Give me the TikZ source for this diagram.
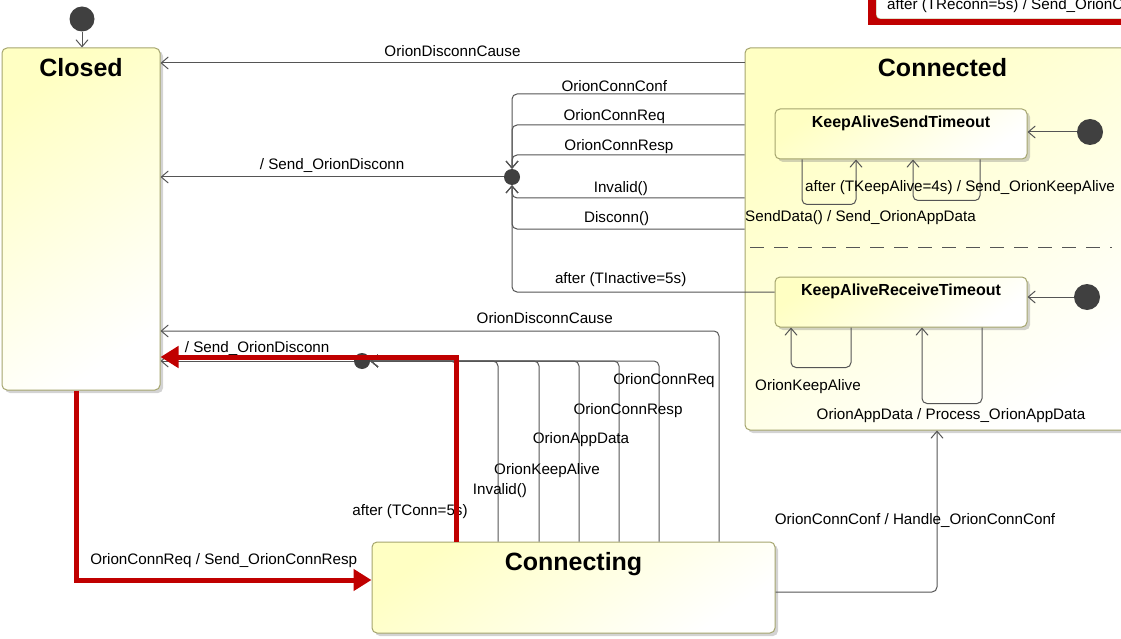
\documentclass[tikz,border=0pt]{standalone}
\usepackage{fontspec}
\setmainfont{Liberation Sans}
\usetikzlibrary{arrows.meta,shadows}
\definecolor{stateyellow}{RGB}{255,255,195}
\definecolor{stateedge}{RGB}{165,165,110}
\definecolor{wire}{RGB}{85,85,85}
\definecolor{dotgray}{RGB}{64,64,64}
\definecolor{hired}{RGB}{192,0,0}
\newcommand{\lblfont}{\fontsize{15.2}{17}\selectfont}
\newcommand{\bigstatefont}{\fontsize{25}{30}\selectfont\bfseries}
\newcommand{\smallstatefont}{\fontsize{16}{19}\selectfont\bfseries}

\begin{document}
\begin{tikzpicture}[x=1pt, y=-1pt, >={Straight Barb[length=7pt,width=12pt]},
    state/.style={draw=stateedge, line width=1pt, rounded corners=5pt, left color=stateyellow, right color=white, shading angle=35,
      drop shadow={shadow xshift=3pt, shadow yshift=-3pt, opacity=.35}},
    bigstate/.style={state, label={[inner sep=0pt, font=\bigstatefont, anchor=north, yshift=-11pt]north:#1}},
    smallstate/.style={state, label={[inner sep=0pt, font=\smallstatefont, anchor=north, yshift=-7pt]north:#1}},
    initdot/.style={circle, fill=dotgray, inner sep=0pt, minimum size=#1},
    trans/.style={draw=wire, line width=1pt, rounded corners=5pt, ->},
    hilite/.style={draw=hired, line width=5pt, line join=miter, -{Triangle[length=18pt,width=21pt]}},
    lbl/.style={font=\lblfont, inner sep=1pt, text=black}]
    \useasboundingbox (0,0) rectangle (1121,639);
    \clip (0,0) rectangle (1121,639);

    \fill[hired] (868,-10) rectangle (1130,25);
    \node[lbl, draw=stateedge, fill=white, rounded corners=4pt, anchor=south west, minimum height=26pt, minimum width=260pt, inner xsep=11pt, align=left] (reconn) at (876,19) {after (TReconn=5s) / Send\_OrionConnReq\hfill};

    \node[bigstate=Closed, minimum width=158pt, minimum height=342pt] (closed) at (81,219) {};
    \node[bigstate=Connected, minimum width=395pt, minimum height=382pt] (connected) at (942.5,239) {};
    \node[smallstate=KeepAliveSendTimeout, minimum width=252pt, minimum height=50pt] (kast) at (901,134) {};
    \node[smallstate=KeepAliveReceiveTimeout, minimum width=252pt, minimum height=50pt] (kart) at (901,302) {};
    \node[bigstate=Connecting, minimum width=403pt, minimum height=91pt] (connecting) at (573.5,587.5) {};

    \draw[wire, line width=1pt, dash pattern=on 14pt off 10pt] (750,247) -- (1112,247);

    \node[initdot=25pt] (start) at (82,19) {};
    \node[initdot=26pt] (sendstart) at (1090,132) {};
    \node[initdot=26pt] (recvstart) at (1087,297) {};
    \node[initdot=16pt] (junc1) at (512,177) {};
    \node[initdot=16pt] (junc2) at (362,361) {};

    \draw[trans] (start) -- (start |- closed.north);
    \draw[trans] (connected.west |- 0,63) -- node[lbl, above=5pt] {OrionDisconnCause} (closed.east |- 0,63);
    \draw[trans] (connected.west |- 0,94) -| node[lbl, above=1pt, pos=.28] {OrionConnConf} (junc1);
    \draw[trans] (connected.west |- 0,125) -| node[lbl, above=0pt, pos=.28] {OrionConnReq} (junc1);
    \draw[trans] (connected.west |- 0,155) -| node[lbl, above=0pt, pos=.27] {OrionConnResp} (junc1);
    \draw[trans] (connected.west |- 0,198) -| node[lbl, above=1pt, pos=.266] {Invalid()} (junc1);
    \draw[trans] (connected.west |- 0,229) -| node[lbl, above=2pt, pos=.275] {Disconn()} (junc1);
    \draw[trans] (kart.west |- 0,292) -| node[lbl, above=4pt, pos=.293] {after (TInactive=5s)} (junc1);
    \draw[trans] (junc1) -- node[lbl, above=3pt] {/ Send\_OrionDisconn} (closed.east |- junc1);

    \draw[trans] (sendstart) -- (kast.east |- sendstart);
    \draw[trans] (kast.south -| 802,0) -- ++(0,45) -| (kast.south -| 856,0);
    \draw[trans] (kast.south -| 980,0) -- ++(0,41) -| (kast.south -| 913,0);
    \node[lbl, anchor=west] (sendlbl1) at (804,188) {after (TKeepAlive=4s) / Send\_OrionKeepAlive};
    \node[lbl, anchor=west] (sendlbl2) at (744,218) {SendData() / Send\_OrionAppData};

    \draw[trans] (recvstart) -- (kart.east |- recvstart);
    \draw[trans] (kart.south -| 851,0) -- ++(0,40) -| (kart.south -| 791,0);
    \draw[trans] (kart.south -| 982,0) -- ++(0,76) -| (kart.south -| 922,0);
    \node[lbl] (recvlbl1) at (808,387) {OrionKeepAlive};
    \node[lbl] (recvlbl2) at (951,416) {OrionAppData / Process\_OrionAppData};

    \draw[trans] (connecting.east |- 0,592) -| node[lbl, pos=.72, xshift=-22pt] {OrionConnConf / Handle\_OrionConnConf} (connected.south -| 937,0);
    \draw[trans] (connecting.north -| 719,0) |- node[lbl, above=6pt, pos=.656] {OrionDisconnCause} (closed.east |- 0,331);

    \draw[trans] (connecting.north -| 659,0) |- node[lbl, pos=.445, xshift=5pt] {OrionConnReq} (junc2);
    \draw[trans] (connecting.north -| 619,0) |- node[lbl, pos=.362, xshift=9pt] {OrionConnResp} (junc2);
    \draw[trans] (connecting.north -| 579,0) |- node[lbl, pos=.282, xshift=2pt] {OrionAppData} (junc2);
    \draw[trans] (connecting.north -| 539,0) |- node[lbl, pos=.196, xshift=8pt] {OrionKeepAlive} (junc2);
    \draw[trans] (connecting.north -| 498,0) |- node[lbl, pos=.141, xshift=2pt] {Invalid()} (junc2);
    \draw[trans] (connecting.north -| 456,0) |- node[lbl, pos=.083, xshift=-46pt] {after (TConn=5s)} (junc2);
    \draw[trans] (junc2) -- node[lbl, above=4pt] {/ Send\_OrionDisconn} (closed.east |- junc2);

    \draw[hilite] (connecting.north -| 456,0) |- (closed.east |- 0,357);
    \draw[hilite] (closed.south -| 76,0) |- node[lbl, above=9pt, pos=.75] {OrionConnReq / Send\_OrionConnResp} (connecting.west |- 0,580);
  \end{tikzpicture}
\end{document}
